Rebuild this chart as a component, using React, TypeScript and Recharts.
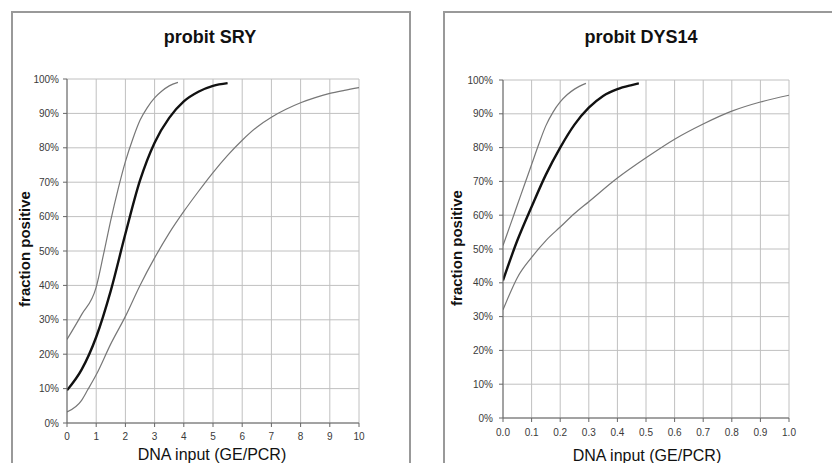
import React from 'react';
import { LineChart, Line, XAxis, YAxis, CartesianGrid } from 'recharts';

// ---------- SRY panel data ----------
const sryMidX = [0, 0.5, 1, 1.5, 2, 2.5, 3, 3.5, 4, 4.5, 5, 5.5];
const sryMidY = [0.095, 0.155, 0.25, 0.385, 0.55, 0.705, 0.815, 0.887, 0.935, 0.963, 0.98, 0.988];
const sryUpX = [0, 0.5, 1, 1.25, 1.5, 1.75, 2, 2.25, 2.5, 2.75, 3, 3.25, 3.5, 3.8];
const sryUpY = [0.243, 0.315, 0.395, 0.49, 0.59, 0.68, 0.76, 0.825, 0.88, 0.917, 0.945, 0.965, 0.98, 0.99];
const sryLoX = [0, 0.5, 0.7, 1, 1.5, 2, 2.5, 3, 3.5, 4, 4.5, 5, 5.5, 6, 6.5, 7, 7.5, 8, 8.5, 9, 9.5, 10];
const sryLoY = [0.032, 0.066, 0.095, 0.14, 0.23, 0.31, 0.40, 0.48, 0.552, 0.615, 0.673, 0.728, 0.778, 0.822, 0.86, 0.889, 0.912, 0.931, 0.946, 0.958, 0.967, 0.975];
const sryTicksX = [0, 1, 2, 3, 4, 5, 6, 7, 8, 9, 10];

// ---------- DYS14 panel data ----------
const dysMidX = [0, 0.05, 0.1, 0.15, 0.2, 0.25, 0.3, 0.35, 0.4, 0.45, 0.475];
const dysMidY = [0.407, 0.525, 0.625, 0.72, 0.80, 0.868, 0.918, 0.953, 0.973, 0.985, 0.99];
const dysUpX = [0, 0.025, 0.05, 0.075, 0.1, 0.125, 0.15, 0.175, 0.2, 0.225, 0.25, 0.29];
const dysUpY = [0.51, 0.57, 0.63, 0.69, 0.75, 0.81, 0.865, 0.905, 0.935, 0.957, 0.973, 0.99];
const dysLoX = [0, 0.025, 0.05, 0.1, 0.15, 0.2, 0.25, 0.3, 0.4, 0.5, 0.6, 0.7, 0.8, 0.9, 1.0];
const dysLoY = [0.32, 0.37, 0.415, 0.475, 0.525, 0.565, 0.605, 0.64, 0.71, 0.77, 0.825, 0.87, 0.908, 0.935, 0.955];
const dysTicksX = [0, 0.1, 0.2, 0.3, 0.4, 0.5, 0.6, 0.7, 0.8, 0.9, 1.0];

const yTicks = [0, 0.1, 0.2, 0.3, 0.4, 0.5, 0.6, 0.7, 0.8, 0.9, 1.0];
const xTitle = 'DNA input (GE/PCR)';
const yTitle = 'fraction positive';

const zip = (xs: number[], ys: number[]) => xs.map((x, i) => ({ x, y: ys[i] }));

const FONT = '"Liberation Sans", Arial, sans-serif';
const pct = (v: number) => `${Math.round(v * 100)}%`;

type PanelProps = {
  left: number;
  mid: { x: number; y: number }[];
  up: { x: number; y: number }[];
  lo: { x: number; y: number }[];
  ticks: number[];
  domainMax: number;
  fmt: (v: number) => string;
  margin: { top: number; right: number; bottom: number; left: number };
  yTickMargin: number;
  xTickMargin: number;
};

function Panel(p: PanelProps) {
  return (
    <div style={{ position: 'absolute', left: p.left, top: 0, width: 416, height: 463 }}>
      <LineChart width={416} height={463} margin={p.margin}>
        <CartesianGrid stroke="#c0c0c0" strokeWidth={1} />
        <XAxis
          type="number"
          dataKey="x"
          domain={[0, p.domainMax]}
          ticks={p.ticks}
          tickFormatter={p.fmt}
          allowDataOverflow
          height={30}
          tickSize={4}
          tickMargin={p.xTickMargin}
          stroke="#666"
          tick={{ fontSize: 10, fill: '#3a3a3a', fontFamily: FONT }}
          interval={0}
        />
        <YAxis
          type="number"
          dataKey="y"
          domain={[0, 1]}
          ticks={yTicks}
          tickFormatter={pct}
          allowDataOverflow
          width={50}
          tickSize={4}
          tickMargin={p.yTickMargin}
          stroke="#666"
          tick={{ fontSize: 10, fill: '#3a3a3a', fontFamily: FONT }}
          interval={0}
        />
        <Line data={p.up} dataKey="y" type="monotone" stroke="#777" strokeWidth={1.2} dot={false} isAnimationActive={false} />
        <Line data={p.lo} dataKey="y" type="monotone" stroke="#777" strokeWidth={1.2} dot={false} isAnimationActive={false} />
        <Line data={p.mid} dataKey="y" type="monotone" stroke="#111" strokeWidth={2.4} dot={false} isAnimationActive={false} />
      </LineChart>
    </div>
  );
}

export default function App() {
  const txt: React.CSSProperties = { position: 'absolute', fontFamily: FONT, color: '#111', whiteSpace: 'nowrap' };
  return (
    <div style={{ position: 'fixed', left: 0, top: 0, width: 832, height: 463, overflow: 'hidden', background: '#fff' }}>
      {/* panel frames */}
      <div style={{ position: 'absolute', left: 11, top: 11, width: 396, height: 470, border: '2px solid #999' }} />
      <div style={{ position: 'absolute', left: 443, top: 11, width: 420, height: 470, border: '2px solid #999' }} />

      <Panel
        left={0}
        mid={zip(sryMidX, sryMidY)}
        up={zip(sryUpX, sryUpY)}
        lo={zip(sryLoX, sryLoY)}
        ticks={sryTicksX}
        domainMax={10}
        fmt={(v) => String(v)}
        margin={{ top: 79, right: 57, bottom: 10, left: 17 }}
        yTickMargin={4}
        xTickMargin={6}
      />
      <Panel
        left={416}
        mid={zip(dysMidX, dysMidY)}
        up={zip(dysUpX, dysUpY)}
        lo={zip(dysLoX, dysLoY)}
        ticks={dysTicksX}
        domainMax={1}
        fmt={(v) => v.toFixed(1)}
        margin={{ top: 80, right: 43, bottom: 15, left: 37 }}
        yTickMargin={6}
        xTickMargin={7}
      />

      {/* titles */}
      <div style={{ ...txt, left: 110, width: 200, top: 26, textAlign: 'center', fontSize: 18, fontWeight: 'bold', lineHeight: '22px' }}>probit SRY</div>
      <div style={{ ...txt, left: 541, width: 200, top: 26, textAlign: 'center', fontSize: 18, fontWeight: 'bold', lineHeight: '22px' }}>probit DYS14</div>

      {/* x axis titles */}
      <div style={{ ...txt, left: 112, width: 200, top: 446, textAlign: 'center', fontSize: 16, lineHeight: '18px' }}>{xTitle}</div>
      <div style={{ ...txt, left: 547, width: 200, top: 447, textAlign: 'center', fontSize: 16, lineHeight: '18px' }}>{xTitle}</div>

      {/* y axis titles */}
      <div style={{ ...txt, left: 25 - 70, width: 140, top: 249 - 9, textAlign: 'center', fontSize: 15, fontWeight: 'bold', lineHeight: '18px', transform: 'rotate(-90deg)' }}>{yTitle}</div>
      <div style={{ ...txt, left: 457 - 70, width: 140, top: 248 - 9, textAlign: 'center', fontSize: 15, fontWeight: 'bold', lineHeight: '18px', transform: 'rotate(-90deg)' }}>{yTitle}</div>
    </div>
  );
}
